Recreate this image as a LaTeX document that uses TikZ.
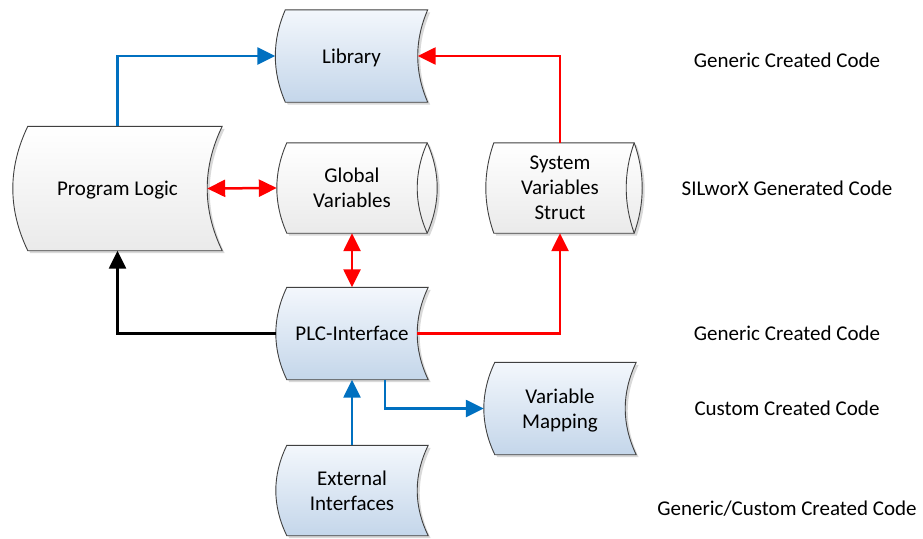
\documentclass[tikz,border=0pt]{standalone}
\usepackage{fontspec}
\setmainfont{Carlito}
\usetikzlibrary{arrows.meta,calc}
\pgfdeclarelayer{bg}
\pgfsetlayers{bg,main}
\definecolor{lineblue}{RGB}{0,112,192}
\definecolor{boxtop}{RGB}{243,247,252}
\definecolor{boxbot}{RGB}{196,214,234}
\definecolor{graybot}{RGB}{234,234,234}
\newcommand\boxfont{\fontsize{21}{25}\selectfont}
% outline of a stored data box: node, bulge, style
\newcommand\storedpath[3]{\path[#3] let \p1=(#1.north west), \p2=(#1.south east) in
  (\x1+#2,\y1) -- (\x2,\y1)
  .. controls (\x2-4*#2/3,\y1*2/3+\y2/3) and (\x2-4*#2/3,\y1/3+\y2*2/3) .. (\x2,\y2)
  -- (\x1+#2,\y2)
  .. controls (\x1-#2/3,\y1/3+\y2*2/3) and (\x1-#2/3,\y1*2/3+\y2/3) .. (\x1+#2,\y1) -- cycle;}
% outline of a direct data box (lying drum)
\newcommand\directpath[3]{\path[#3] let \p1=(#1.north west), \p2=(#1.south east) in
  (\x1+#2,\y1) -- (\x2,\y1)
  .. controls (\x2+4*#2/3,\y1*2/3+\y2/3) and (\x2+4*#2/3,\y1/3+\y2*2/3) .. (\x2,\y2)
  -- (\x1+#2,\y2)
  .. controls (\x1-#2/3,\y1/3+\y2*2/3) and (\x1-#2/3,\y1*2/3+\y2/3) .. (\x1+#2,\y1) -- cycle;}
\newcommand\storeddata[3]{%
  \begin{pgfonlayer}{bg}
    \storedpath{#1}{#2}{boxshadow}
    \storedpath{#1}{#2}{#3,boxline}
  \end{pgfonlayer}}
\newcommand\directdata[3]{%
  \begin{pgfonlayer}{bg}
    \directpath{#1}{#2}{boxshadow}
    \directpath{#1}{#2}{#3,boxline}
    \draw[boxline] let \p1=(#1.north east), \p2=(#1.south east) in
      (\p1) .. controls (\x1-4*#2/3,\y1*2/3+\y2/3) and (\x1-4*#2/3,\y1/3+\y2*2/3) .. (\p2);
  \end{pgfonlayer}}
\tikzset{
  flowbox/.style={minimum width=152pt, minimum height=92pt, inner sep=0pt,
    text depth=0pt, align=center, font=\boxfont},
  codelabel/.style={inner sep=0pt, text depth=0pt, font=\boxfont},
  boxline/.style={draw=black!75, line width=0.9pt},
  boxshadow/.style={fill=black!15, transform canvas={shift={(2.5pt,-2.5pt)}}},
  blueshade/.style={top color=boxtop, bottom color=boxbot},
  grayshade/.style={top color=white, bottom color=graybot},
  link/.style={line width=2.5pt, -{Triangle[length=18pt,width=17pt]}},
  twoway/.style={line width=2.5pt,
    {Triangle[length=18pt,width=17pt]}-{Triangle[length=18pt,width=17pt]}}
}
\begin{document}
\begin{tikzpicture}[x=1pt,y=-1pt]
\useasboundingbox (0,0) rectangle (923,538);
% boxes
\node[flowbox] (lib) at (351.5,56) {Library};
\node[flowbox, minimum width=209pt, minimum height=124pt] (prog) at (117.5,188.5) {Program Logic};
\node[flowbox, minimum width=150pt, minimum height=90pt] (glob) at (352,188) {Global\\Variables};
\node[flowbox, minimum width=148pt, minimum height=90pt] (sysvar) at (560,188) {System\\Variables\\Struct};
\node[flowbox] (plc) at (352,333.5) {PLC-Interface};
\node[flowbox] (varmap) at (560,408.5) {Variable\\Mapping};
\node[flowbox, minimum height=90pt] (extif) at (352,490.5) {External\\Interfaces};
\storeddata{lib}{10}{blueshade}
\storeddata{prog}{15}{grayshade}
\directdata{glob}{10}{grayshade}
\directdata{sysvar}{8}{grayshade}
\storeddata{plc}{11}{blueshade}
\storeddata{varmap}{11}{blueshade}
\storeddata{extif}{11}{blueshade}
% code labels
\node[codelabel] (genlib) at (787,60) {Generic Created Code};
\node[codelabel] (silworx) at (787,188) {SILworX Generated Code};
\node[codelabel] (genplc) at (787,333) {Generic Created Code};
\node[codelabel] (custom) at (787,408) {Custom Created Code};
\node[codelabel] (genext) at (787,508) {Generic/Custom Created Code};
% connectors
\draw[link, lineblue] (prog.north) |- (lib.west);
\draw[link, red] (sysvar.north) |- ([xshift=-10pt]lib.east);
\draw[twoway, red] ([xshift=-15pt]prog.east) -- (glob.west);
\draw[twoway, red] (glob.south) -- (plc.north);
\draw[link] (plc.west) -| (prog.south);
\draw[link, red] ([xshift=-11pt]plc.east) -| (sysvar.south);
\draw[link, lineblue] ([xshift=33pt]plc.south) |- (varmap.west);
\draw[link, lineblue] (extif.north) -- (plc.south);
\end{tikzpicture}
\end{document}
